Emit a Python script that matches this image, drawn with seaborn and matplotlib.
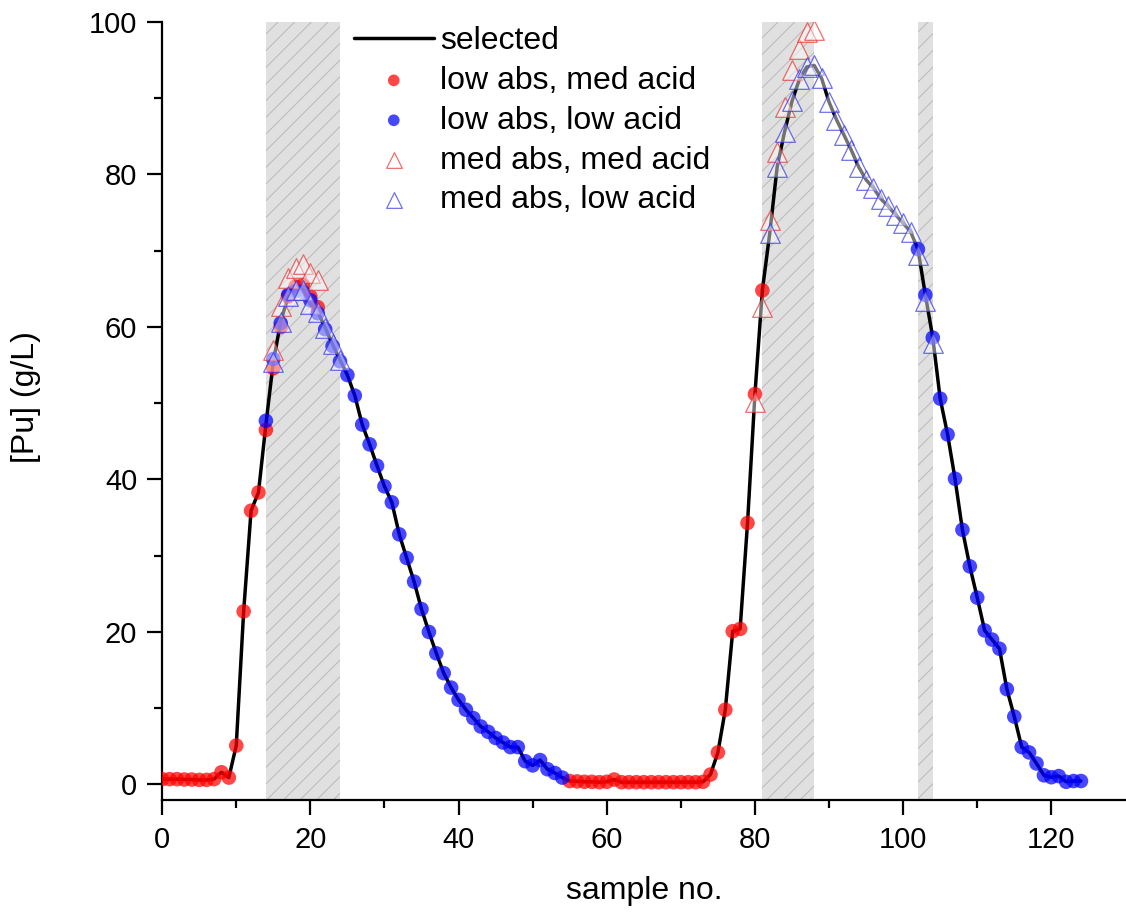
import numpy as np
import pandas as pd
import matplotlib
matplotlib.use("Agg")
import matplotlib.pyplot as plt
import seaborn as sns

# ---------------- data ----------------
sample = list(range(125))
selected = [0.7, 0.7, 0.7, 0.65, 0.65, 0.6, 0.6, 0.7, 1.6, 0.9, 5.1, 22.7, 35.9, 38.3,
            47.2,
            55.4, 60.7, 64.0, 64.9, 64.9, 63.0, 62.0, 59.9, 57.7, 55.7,
            53.7, 51.0, 47.2, 44.6, 41.8, 39.1, 37.0, 32.8, 29.7, 26.6, 23.0, 20.0, 17.2, 14.6,
            12.7, 11.1, 9.8, 8.7, 7.6, 6.9, 6.1, 5.5, 4.9, 4.9, 3.05, 2.5, 3.2, 2.0, 1.5, 0.9,
            0.45, 0.4, 0.35, 0.35, 0.3, 0.35, 0.65, 0.3, 0.3, 0.3, 0.3, 0.3, 0.3, 0.3, 0.3,
            0.3, 0.3, 0.3, 0.35, 1.3, 4.2, 9.8, 20.1, 20.4, 34.3, 51.2, 64.8,
            72.3, 81.0, 85.6, 89.6, 92.5, 94.1, 94.3, 92.6, 89.5, 87.2, 85.2, 83.2, 81.0, 79.3,
            78.2, 76.8, 75.8, 74.7, 73.6, 72.5,
            70.2, 64.2, 58.6, 50.6, 45.9, 40.1, 33.4, 28.6, 24.5, 20.2, 19.0, 17.8, 12.5, 8.9,
            4.9, 4.2, 2.75, 1.2, 0.95, 1.1, 0.35, 0.45, 0.45]

# low abs, med acid (red circles)
lam_x = list(range(0, 22)) + list(range(55, 82))
lam_y = [0.7, 0.7, 0.7, 0.65, 0.65, 0.6, 0.6, 0.7, 1.6, 0.9, 5.1, 22.7, 35.9, 38.3,
         46.5, 54.6, 60.0, 64.0, 65.3, 65.5, 64.0, 62.6,
         0.45, 0.4, 0.35, 0.35, 0.3, 0.35, 0.65, 0.3, 0.3, 0.3, 0.3, 0.3, 0.3, 0.3, 0.3,
         0.3, 0.3, 0.3, 0.35, 1.3, 4.2, 9.8, 20.1, 20.4, 34.3, 51.2, 64.8]

# low abs, low acid (blue circles)
lal_x = list(range(14, 55)) + list(range(102, 125))
lal_y = [47.7, 55.8, 60.5, 64.2, 64.7, 64.6, 63.5, 61.8, 59.7, 57.5, 55.5,
         53.7, 51.0, 47.2, 44.6, 41.8, 39.1, 37.0, 32.8, 29.7, 26.6, 23.0, 20.0, 17.2, 14.6,
         12.7, 11.1, 9.8, 8.7, 7.6, 6.9, 6.1, 5.5, 4.9, 4.9, 3.05, 2.5, 3.2, 2.0, 1.5, 0.9,
         70.2, 64.2, 58.6, 50.6, 45.9, 40.1, 33.4, 28.6, 24.5, 20.2, 19.0, 17.8, 12.5, 8.9,
         4.9, 4.2, 2.75, 1.2, 0.95, 1.1, 0.35, 0.45, 0.45]

# med abs, med acid (red open triangles)
mam_x = list(range(15, 22)) + list(range(80, 89))
mam_y = [57.0, 62.7, 66.4, 67.7, 68.2, 67.1, 66.2,
         50.2, 62.6, 74.0, 83.0, 88.9, 93.7, 96.5, 98.7, 98.9]

# med abs, low acid (blue open triangles)
mal_x = list(range(15, 25)) + list(range(82, 105))
mal_y = [55.4, 60.7, 64.0, 64.9, 64.9, 63.0, 62.0, 59.9, 57.7, 55.7,
         72.3, 81.0, 85.6, 89.6, 92.5, 94.1, 94.3, 92.6, 89.5, 87.2, 85.2, 83.2, 81.0, 79.3,
         78.2, 76.8, 75.8, 74.7, 73.6, 72.5, 69.4, 63.4, 57.9]

shade_start = [14, 81, 102]
shade_end = [24, 88, 104]

labels = ["selected", "low abs, med acid", "low abs, low acid",
          "med abs, med acid", "med abs, low acid"]

# ---------------- style ----------------
sns.set_theme(style="ticks")
plt.rcParams["font.family"] = ["Liberation Sans", "DejaVu Sans"]
plt.rcParams["hatch.linewidth"] = 0.8
plt.rcParams["text.color"] = "black"
plt.rcParams["axes.labelcolor"] = "black"

fig = plt.figure(figsize=(11.26, 9.15), dpi=100)
ax = fig.add_axes([0.144, 0.126, 0.8555, 0.850])

for a, b in zip(shade_start, shade_end):
    ax.axvspan(a, b, facecolor="#e0e0e0", edgecolor="#bdbdbd", hatch="//",
               linewidth=0, zorder=0)

df_sel = pd.DataFrame({"sample": sample, "Pu": selected})
sns.lineplot(data=df_sel, x="sample", y="Pu", color="black", linewidth=2.5,
             ax=ax, label=labels[0], zorder=2, estimator=None, sort=False)

df_lam = pd.DataFrame({"sample": lam_x, "Pu": lam_y})
df_lal = pd.DataFrame({"sample": lal_x, "Pu": lal_y})
df_mam = pd.DataFrame({"sample": mam_x, "Pu": mam_y})
df_mal = pd.DataFrame({"sample": mal_x, "Pu": mal_y})

sns.scatterplot(data=df_lam, x="sample", y="Pu", ax=ax, marker="o", s=110,
                color=(1, 0, 0, 0.72), edgecolor="none", linewidth=0,
                label=labels[1], zorder=3)
sns.scatterplot(data=df_lal, x="sample", y="Pu", ax=ax, marker="o", s=110,
                color=(0, 0, 1, 0.72), edgecolor="none", linewidth=0,
                label=labels[2], zorder=3)
sns.scatterplot(data=df_mam, x="sample", y="Pu", ax=ax, marker="^", s=200,
                facecolor=(1, 1, 1, 0.45), edgecolor=(0.9, 0.2, 0.2, 0.7),
                linewidth=0.9, label=labels[3], zorder=4)
sns.scatterplot(data=df_mal, x="sample", y="Pu", ax=ax, marker="^", s=200,
                facecolor=(1, 1, 1, 0.45), edgecolor=(0.2, 0.2, 0.9, 0.7),
                linewidth=0.9, label=labels[4], zorder=4)

ax.set_xlim(0, 130)
ax.set_ylim(-2, 100)
ax.set_xticks([0, 20, 40, 60, 80, 100, 120])
ax.set_xticks([10, 30, 50, 70, 90, 110], minor=True)
ax.set_yticks([0, 20, 40, 60, 80, 100])
ax.set_yticks([10, 30, 50, 70, 90], minor=True)
ax.tick_params(axis="both", which="major", direction="out", length=11, width=1.6,
               labelsize=21, color="black", labelcolor="black")
ax.tick_params(axis="x", which="major", pad=8)
ax.tick_params(axis="y", which="major", pad=7)
ax.tick_params(axis="both", which="minor", direction="out", length=5.5, width=1.6,
               color="black")
for side in ["top", "right"]:
    ax.spines[side].set_visible(False)
for side in ["left", "bottom"]:
    ax.spines[side].set_linewidth(1.6)
    ax.spines[side].set_color("black")

ax.set_xlabel("sample no.", fontsize=23, color="black")
ax.set_ylabel("[Pu] (g/L)", fontsize=23, color="black")
ax.xaxis.set_label_coords(0.5, -0.098)
ax.yaxis.set_label_coords(-0.126, 0.518)

leg = ax.legend(loc="upper left", bbox_to_anchor=(0.199, 0.995), frameon=False,
                fontsize=23, handlelength=2.5, handletextpad=0.2,
                labelspacing=0.31, borderpad=0, borderaxespad=0, markerscale=0.8,
                labelcolor="black")

fig.savefig("out.png", dpi=100)
